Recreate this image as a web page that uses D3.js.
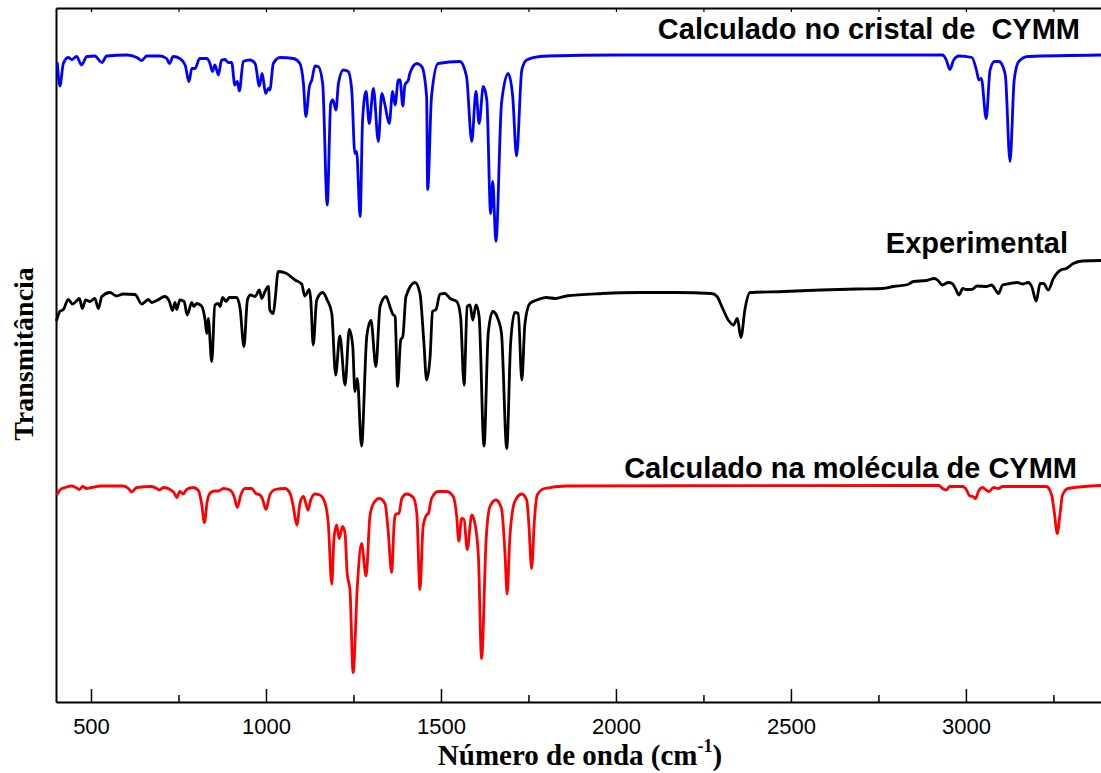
<!DOCTYPE html>
<html>
<head>
<meta charset="utf-8">
<script src="https://d3js.org/d3.v7.min.js"></script>
<style>
  body { margin: 0; background: #fff; }
  .serie { fill: none; stroke-width: 2.8; stroke-linejoin: round; stroke-linecap: round; }
  .rotulo { font-family: "Liberation Sans", Arial, sans-serif; font-weight: bold; font-size: 29px; white-space: pre; }
  .titulo { font-family: "Liberation Serif", "Times New Roman", serif; font-weight: bold; }
</style>
</head>
<body>
<div id="chart"></div>
<script>

// Spectra: [wavenumber (cm-1), transmittance (a.u., shifted)]

// Calculado no cristal de CYMM (blue)
const cristal = [
  [404,127.7],[411,123.2],[421,127.7],[435,128.9],[445,128.5],[459,129.1],[473,127.4],[488,129.1],
  [511,129.2],[531,127.9],[545,129.2],[602,129.4],[631,128.9],[645,128.3],[659,129.2],[697,129.2],
  [716,128.7],[724,127.7],[735,129.1],[754,128.7],[769,127.4],[780,124.1],[788,126.7],[797,126.7],
  [811,128.7],[831,128.7],[840,127.7],[847,126.1],[854,127.4],[864,125.4],[873,128.4],[883,128.5],
  [892,127.9],[902,127.9],[911,123.4],[918,124.1],[924,122.2],[935,128.1],[954,128.4],[969,127.7],
  [981,123.2],[989,125.7],[999,121.7],[1007,122.7],[1011,122.4],[1021,127.7],[1040,128.9],[1078,128.7],
  [1097,127.7],[1107,123.7],[1114,117.1],[1124,123.1],[1131,124.4],[1140,127.2],[1149,127.1],[1162,123.7],
  [1175,99.4],[1185,119.7],[1191,120.4],[1200,118.4],[1207,123.7],[1221,126.4],[1235,126.1],[1245,122.4],
  [1254,109.7],[1259,110.1],[1269,97.1],[1276,116.4],[1286,122.1],[1295,115.7],[1307,122.7],[1321,112.1],
  [1331,121.7],[1340,119.4],[1352,115.7],[1362,122.1],[1369,119.4],[1378,124.4],[1383,124.4],[1391,119.2],
  [1397,123.4],[1407,124.4],[1411,125.7],[1431,127.7],[1445,127.1],[1459,121.1],[1462,102.5],[1473,121.1],
  [1492,127.7],[1554,128.1],[1573,125.1],[1588,112.1],[1600,122.1],[1609,115.7],[1621,123.1],[1631,120.4],
  [1642,97.7],[1648,104.1],[1657,92.1],[1673,119.7],[1692,125.7],[1705,121.1],[1716,109.2],[1731,126.4],
  [1745,128.4],[1783,129.1],[1806,129.2],[2000,129.4],[2500,129.4],[2933,129.4],[2944,128.4],[2954,126.5],
  [2965,128.4],[2980,129.2],[3017,128.9],[3030,126.4],[3037,124.4],[3044,124.7],[3058,116.7],[3069,126.4],
  [3082,128.1],[3094,128.1],[3105,127.2],[3113,125.1],[3126,108.1],[3138,124.4],[3151,128.1],[3177,129.1],
  [3386,129.4]
];

// Experimental (black)
const experimental = [
  [402,76.4],[411,78.1],[421,78.5],[435,80.5],[447,79.6],[457,80.1],[467,80.7],[475,78.7],
  [485,80.4],[497,80.1],[511,80.7],[521,78.7],[531,81.1],[554,81.9],[573,81.2],[592,81.6],
  [626,81.5],[645,79.6],[664,80.5],[673,79.9],[688,80.3],[711,81.1],[724,80.1],[733,78.3],
  [740,79.9],[745,78.5],[754,80.4],[766,80.1],[775,77.4],[788,79.9],[794,79.1],[802,79.7],
  [816,79.2],[826,76.4],[831,73.7],[835,76.7],[845,68.1],[854,79.4],[864,79.7],[869,79.1],
  [876,80.9],[886,80.1],[895,80.9],[916,80.9],[926,78.7],[937,71.1],[947,80.4],[956,81.4],
  [969,81.1],[981,82.4],[988,80.7],[997,82.1],[1007,83.1],[1011,78.4],[1021,77.7],[1026,80.4],
  [1035,86.1],[1059,85.7],[1083,84.4],[1102,83.6],[1111,81.2],[1124,82.5],[1128,80.4],[1135,71.4],
  [1145,80.4],[1162,81.9],[1175,80.4],[1188,77.7],[1199,65.4],[1211,73.2],[1226,63.4],[1238,74.5],
  [1248,71.1],[1254,62.1],[1261,64.7],[1273,51.2],[1288,73.1],[1300,76.3],[1314,67.1],[1326,79.1],
  [1343,81.1],[1354,79.1],[1362,77.6],[1369,77.1],[1376,63.1],[1385,72.4],[1391,73.1],[1400,81.1],
  [1426,83.9],[1440,81.7],[1451,72.1],[1459,64.4],[1469,69.1],[1476,78.1],[1486,78.5],[1497,81.6],
  [1511,81.7],[1526,80.7],[1545,80.1],[1556,77.1],[1566,63.4],[1575,79.1],[1583,79.4],[1591,76.4],
  [1600,79.4],[1609,77.1],[1623,51.2],[1635,73.7],[1648,78.1],[1664,76.4],[1673,73.7],[1688,50.7],
  [1699,71.7],[1711,77.9],[1721,77.7],[1731,64.4],[1740,75.7],[1754,79.7],[1774,80.4],[1801,80.9],
  [1827,80.7],[1858,81.2],[1962,81.7],[2066,81.9],[2170,81.9],[2274,81.7],[2289,81.1],[2305,78.7],
  [2321,76.4],[2336,75.4],[2347,76.7],[2357,72.9],[2369,78.7],[2383,81.9],[2481,82.1],[2586,82.4],
  [2689,82.6],[2762,82.7],[2793,83.1],[2834,83.5],[2850,84.1],[2887,84.3],[2910,84.7],[2920,84.3],
  [2933,83.4],[2949,83.9],[2961,83.7],[2970,82.7],[2980,81.4],[2991,82.7],[3001,82.5],[3017,82.5],
  [3032,83.2],[3058,83.1],[3074,83.4],[3082,82.7],[3093,81.7],[3105,83.4],[3126,83.7],[3147,83.9],
  [3162,83.6],[3178,83.9],[3188,83.1],[3201,80.2],[3212,83.7],[3222,83.7],[3235,82.4],[3250,84.7],
  [3271,86.4],[3287,86.7],[3307,87.7],[3333,88.2],[3386,88.3]
];

// Calculado na molécula de CYMM (red)
const molecula = [
  [404,41.6],[411,42.4],[426,42.9],[445,43.2],[457,42.9],[467,42.5],[476,43.1],[488,42.7],
  [502,42.9],[531,43.2],[592,43.2],[607,42.7],[616,42.0],[631,42.9],[673,43.1],[688,42.7],
  [695,42.4],[707,42.9],[726,42.5],[737,41.9],[745,40.9],[754,42.1],[764,41.6],[773,42.5],
  [792,42.9],[807,42.3],[816,39.7],[824,35.9],[832,40.1],[842,41.9],[854,42.2],[864,42.2],
  [878,42.7],[897,42.4],[909,41.1],[918,38.9],[928,41.4],[940,42.7],[959,42.7],[971,41.7],
  [983,41.4],[991,40.4],[1000,38.5],[1011,41.4],[1026,42.5],[1054,42.7],[1069,41.7],[1078,39.1],
  [1088,35.4],[1097,39.7],[1107,41.1],[1114,39.7],[1120,38.4],[1128,40.4],[1140,41.6],[1154,41.4],
  [1169,39.7],[1178,35.7],[1188,23.6],[1194,32.4],[1202,35.4],[1209,32.7],[1219,35.1],[1226,33.7],
  [1232,25.7],[1240,22.4],[1249,5.9],[1261,23.1],[1273,31.7],[1286,25.2],[1297,37.1],[1307,39.7],
  [1324,40.7],[1340,39.7],[1349,34.4],[1359,25.9],[1367,36.4],[1371,37.6],[1380,37.7],[1388,40.7],
  [1402,41.6],[1421,40.9],[1431,37.7],[1440,22.5],[1449,35.1],[1459,37.4],[1464,37.7],[1473,40.7],
  [1492,42.1],[1516,42.1],[1535,41.1],[1545,37.1],[1551,32.2],[1559,36.7],[1566,36.5],[1575,30.5],
  [1588,37.4],[1597,35.7],[1607,29.1],[1616,8.7],[1629,32.4],[1640,39.1],[1657,40.4],[1673,38.7],
  [1683,29.7],[1689,21.6],[1697,33.1],[1711,40.1],[1731,41.6],[1745,40.4],[1751,35.7],[1759,26.7],
  [1767,36.4],[1775,41.4],[1796,42.7],[1858,43.2],[2923,43.3],[2933,42.7],[2944,42.4],[2954,43.1],
  [2991,43.1],[3001,42.5],[3011,41.2],[3020,41.1],[3027,40.7],[3037,42.3],[3048,42.9],[3058,42.4],
  [3066,42.1],[3079,42.9],[3093,42.7],[3105,43.1],[3230,43.1],[3245,41.4],[3253,37.7],[3261,33.7],
  [3269,37.7],[3276,41.4],[3292,42.7],[3386,43.3]
];

// axis tick values
const majorTicks = [500, 1000, 1500, 2000, 2500, 3000];
const minorTicks = [750, 1250, 1750, 2250, 2750, 3250];
const topTicks = [500, 750, 1000, 1250, 1500, 1750, 2000, 2250, 2500, 2750, 3000, 3250];

// series labels
const labels = ["Calculado no cristal de  CYMM", "Experimental", "Calculado na molécula de CYMM"];

/*

  Setup

*/
const width = 1101;
const height = 773;
const margin = { top: 8, right: 0, bottom: 71, left: 56 };

const svg = d3
  .select("#chart")
  .append("svg")
  .attr("width", width)
  .attr("height", height)
  .attr("viewBox", [0, 0, width, height]);

// the picture is cut at its right edge, so the scale runs to ~3386
const xScale = d3.scaleLinear()
  .domain([400, 3386])
  .range([margin.left, width - margin.right]);

const yScale = d3.scaleLinear()
  .domain([0, 138.8])
  .range([height - margin.bottom, margin.top]);

/*

  Axes

*/
const bottom = height - margin.bottom;

// bottom axis with labels, ticks pointing inward
const xAxis = svg.append("g")
  .attr("transform", `translate(0, ${bottom})`)
  .call(d3.axisBottom(xScale)
    .tickValues(majorTicks)
    .tickFormat(d3.format("d"))
    .tickSizeInner(-13)
    .tickSizeOuter(0)
    .tickPadding(16));

xAxis.select(".domain").attr("stroke-width", 2);
xAxis.selectAll(".tick line").attr("stroke-width", 1.5);
xAxis.selectAll("text")
  .attr("font-family", "'Liberation Sans', Arial, sans-serif")
  .attr("font-size", "22px")
  .attr("fill", "#000");

// minor ticks
const xMinor = svg.append("g")
  .attr("transform", `translate(0, ${bottom})`)
  .call(d3.axisBottom(xScale)
    .tickValues(minorTicks)
    .tickSizeInner(-7)
    .tickSizeOuter(0)
    .tickFormat(""));
xMinor.select(".domain").remove();
xMinor.selectAll(".tick line").attr("stroke-width", 1.5);

// top frame line
const xTop = svg.append("g")
  .attr("transform", `translate(0, ${margin.top})`)
  .call(d3.axisTop(xScale)
    .tickValues(topTicks)
    .tickSizeInner(-4)
    .tickSizeOuter(0)
    .tickFormat(""));
xTop.select(".domain").attr("stroke-width", 2);
xTop.selectAll(".tick line").attr("stroke-width", 1.2);

// left axis, no ticks
const yAxis = svg.append("g")
  .attr("transform", `translate(${margin.left}, 0)`)
  .call(d3.axisLeft(yScale).tickValues([]).tickSizeOuter(0));
yAxis.select(".domain").attr("stroke-width", 2);

/*

  Lines

*/
const line = d3.line()
  .x(d => xScale(d[0]))
  .y(d => yScale(d[1]))
  .curve(d3.curveMonotoneX);

const series = [
  { data: cristal, color: "#0000ff" },
  { data: experimental, color: "#000000" },
  { data: molecula, color: "#ff0000" }
];

svg.selectAll(".serie")
  .data(series)
  .enter()
  .append("path")
    .attr("class", "serie")
    .attr("stroke", d => d.color)
    .attr("d", d => line(d.data));

/*

  Text

*/
const labelPos = [[1080, 39], [1068, 253], [1077, 478]];

svg.selectAll(".rotulo")
  .data(labels)
  .enter()
  .append("text")
    .attr("class", "rotulo")
    .attr("text-anchor", "end")
    .attr("x", (d, i) => labelPos[i][0])
    .attr("y", (d, i) => labelPos[i][1])
    .text(d => d);

// x title with superscript
const xTitle = svg.append("text")
  .attr("class", "titulo")
  .attr("x", 580)
  .attr("y", 765)
  .attr("text-anchor", "middle")
  .attr("font-size", "29px");
xTitle.append("tspan").text("Número de onda (cm");
xTitle.append("tspan").attr("font-size", "18px").attr("dy", -13).text("-1");
xTitle.append("tspan").attr("dy", 13).text(")");

// y title
svg.append("text")
  .attr("class", "titulo")
  .attr("transform", "translate(33, 354) rotate(-90)")
  .attr("text-anchor", "middle")
  .attr("font-size", "28px")
  .text("Transmitância");

</script>
</body>
</html>
